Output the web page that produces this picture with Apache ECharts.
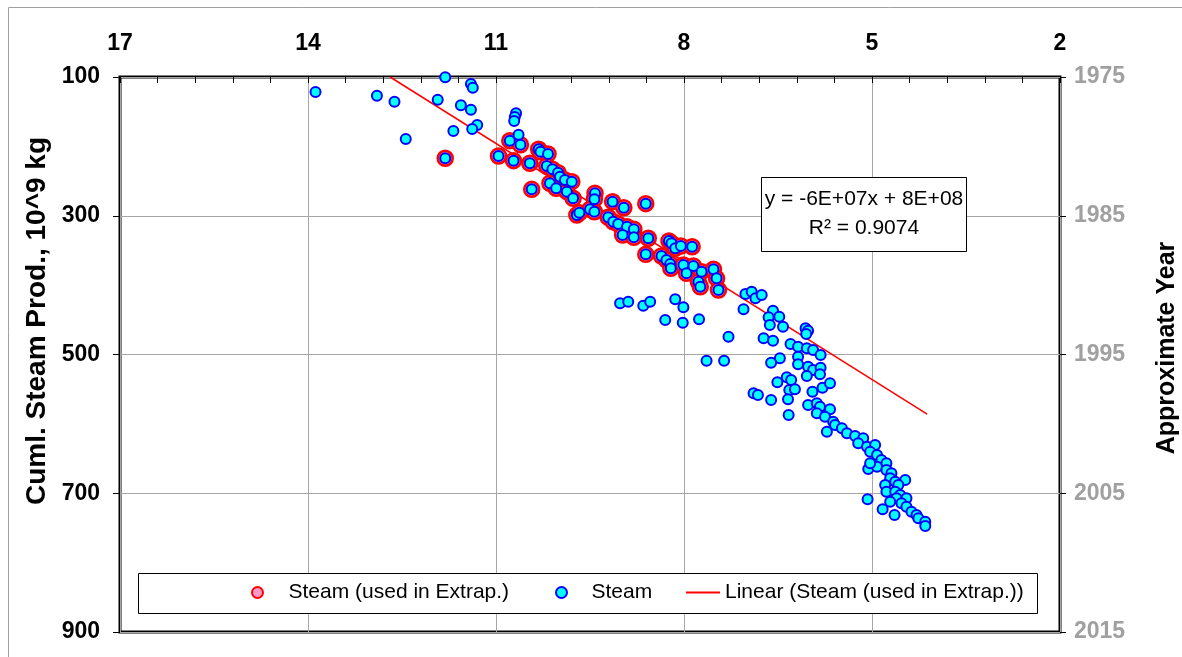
<!DOCTYPE html>
<html><head><meta charset="utf-8">
<script src="https://cdn.jsdelivr.net/npm/echarts@6/dist/echarts.min.js"></script>
<style>html,body{margin:0;padding:0;background:#fff}#c{width:1182px;height:657px}</style>
</head><body><div id="c"></div>
<script>
// ---- data ----
const usedX = [11.81,10.78,10.61,10.96,10.72,10.46,10.32,10.29,10.17,10.19,10.10,10.01,9.98,9.90,9.79,10.14,10.04,10.43,9.87,9.77,9.71,9.67,9.42,9.43,9.50,9.43,9.14,8.96,8.61,9.21,9.13,9.05,8.91,8.80,8.98,8.80,8.57,8.61,8.24,8.20,8.14,8.05,7.87,8.36,8.28,8.22,8.21,8.01,7.96,7.85,7.72,7.53,7.48,7.77,7.74,7.45];
const usedY = [217.2,191.8,197.6,213.9,220.6,224.4,204.2,207.7,211.0,228.3,233.0,237.9,243.7,248.5,250.9,253.2,260.4,261.9,265.3,274.8,298.9,295.6,267.6,276.3,290.7,294.2,279.7,288.4,282.6,302.2,308.6,311.9,315.8,319.5,327.7,331.1,332.5,355.6,336.4,339.7,346.9,343.6,344.6,358.0,363.8,369.5,375.7,371.0,383.0,372.4,380.6,377.2,390.2,395.1,402.3,407.0];
const otherX = [13.88,11.81,11.40,11.37,12.90,12.62,11.93,11.56,11.40,11.30,11.38,11.68,12.44,10.68,10.70,10.71,10.64,
  9.02,8.89,8.65,8.54,8.14,8.01,8.30,8.02,7.76,7.29,7.64,7.36,
  7.02,6.92,6.86,6.76,7.05,6.58,6.48,6.65,6.63,6.42,6.73,6.58,6.06,6.02,6.05,6.30,6.18,6.04,5.94,5.82,6.47,6.61,6.18,6.18,6.02,5.94,5.82,6.04,5.83,6.51,6.36,6.29,6.32,6.23,6.34,5.95,5.79,5.67,6.89,6.82,6.61,6.33,6.02,5.88,5.83,5.67,5.88,5.75,5.62,5.59,5.72,5.48,5.40,5.27,5.14,5.22,5.08,4.95,5.03,4.92,4.85,4.77,5.06,4.92,4.77,4.69,4.71,4.63,4.47,4.58,4.79,4.77,4.63,4.55,4.45,4.61,4.71,4.53,4.45,4.37,4.29,4.26,4.15,4.15,5.07,4.83,4.64,5.03];
const otherY = [121.6,100.4,110.1,115.4,127.0,135.6,132.7,140.8,147.1,169.2,175.0,177.8,189.4,152.3,157.5,163.4,183.2,
  426.2,423.9,429.7,423.9,420.4,432.0,450.3,454.2,449.3,474.3,508.9,508.9,
  412.8,409.5,419.0,414.2,434.9,436.9,445.5,446.4,457.5,459.9,476.6,480.1,462.2,465.7,470.5,484.9,488.8,491.1,493.5,500.7,505.5,511.8,503.2,514.1,517.6,522.3,519.0,531.0,528.5,540.1,532.9,536.8,551.2,550.2,564.6,553.6,547.9,541.5,555.9,558.4,565.6,587.2,572.8,570.3,575.2,579.0,584.8,589.7,596.9,601.6,611.3,606.4,613.6,617.6,620.8,628.0,632.9,630.5,640.1,644.9,652.1,656.8,665.0,661.7,666.5,671.2,678.4,683.3,680.9,688.1,688.1,697.8,697.8,702.5,707.3,707.3,712.2,714.5,719.4,726.6,731.3,736.1,741.0,747.2,708.7,723.2,731.3,656.8];
const trendX = [12.69, 4.12];
const trendY = [100, 586];
const xRange = [2, 17], xStep = 3;            // top axis: 17 ... 2 (reversed)
const yRange = [100, 900], yStep = 200;       // left axis
const yearRange = [1975, 2015], yearStep = 10; // right axis
const seriesNames = ['Steam (used in Extrap.)', 'Steam', 'Linear (Steam (used in Extrap.))'];
const eqLines = ['y = -6E+07x + 8E+08', 'R\u00B2 = 0.9074'];
const yTitle = 'Cuml. Steam Prod., 10^9 kg';
const y2Title = 'Approximate Year';

// ---- build ----
const zip = (a, b) => a.map((v, i) => [v, b[i]]);
const usedData = zip(usedX, usedY);
const steamData = usedData.concat(zip(otherX, otherY));
const trendData = zip(trendX, trendY);
const FF = "'Liberation Sans', Arial, sans-serif";

const chart = echarts.init(document.getElementById('c'), null, {renderer: 'canvas'});
const legendText = {fontFamily: FF, fontSize: 21, color: '#000'};
chart.setOption({
  animation: false,
  backgroundColor: '#fff',
  grid: {left: 120, top: 77, width: 940, height: 555, show: true, borderColor: '#000', borderWidth: 3, backgroundColor: '#fff', containLabel: false},
  xAxis: {
    type: 'value', position: 'top', min: xRange[0], max: xRange[1], interval: xStep, inverse: true,
    axisLine: {show: false},
    axisTick: {show: true, inside: true, length: 6, lineStyle: {color: '#000', width: 1}},
    minorTick: {show: true, splitNumber: 5, length: 6, lineStyle: {color: '#000', width: 1}},
    axisLabel: {margin: 22, fontFamily: FF, fontSize: 23, fontWeight: 'bold', color: '#000'},
    splitLine: {show: true, lineStyle: {color: '#A6A6A6', width: 1}}
  },
  yAxis: [{
    type: 'value', position: 'left', min: yRange[0], max: yRange[1], interval: yStep, inverse: true,
    axisLine: {show: false},
    axisTick: {show: true, inside: false, length: 7, lineStyle: {color: '#000', width: 1}},
    axisLabel: {margin: 20, fontFamily: FF, fontSize: 23, fontWeight: 'bold', color: '#000'},
    splitLine: {show: true, lineStyle: {color: '#A6A6A6', width: 1}}
  }, {
    type: 'value', position: 'right', min: yearRange[0], max: yearRange[1], interval: yearStep, inverse: true,
    axisLine: {show: false},
    axisTick: {show: true, inside: false, length: 6, lineStyle: {color: '#000', width: 1}},
    axisLabel: {margin: 14, fontFamily: FF, fontSize: 23, fontWeight: 'bold', color: '#A0A0A0', formatter: v => String(v)},
    splitLine: {show: false}
  }],
  legend: [
    {data: [seriesNames[0]], left: 251, top: 582, padding: 0, itemWidth: 52, itemHeight: 11, selectedMode: false, textStyle: legendText, z: 6},
    {data: [seriesNames[1]], left: 555, top: 582, padding: 0, itemWidth: 50, itemHeight: 11, selectedMode: false, textStyle: legendText, z: 6},
    {data: [seriesNames[2]], left: 685, top: 582, padding: 0, itemWidth: 34, itemHeight: 11, selectedMode: false, textStyle: legendText, z: 6,
     itemStyle: {color: 'rgba(0,0,0,0)', borderWidth: 0}}
  ],
  series: [
    {name: seriesNames[0], type: 'scatter', data: usedData, symbol: 'circle', symbolSize: 15, z: 2,
     itemStyle: {color: '#FF99CC', borderColor: '#FF0000', borderWidth: 2.5, opacity: 1}, silent: true},
    {name: seriesNames[2], type: 'line', data: trendData, symbol: 'none', showSymbol: false, z: 3,
     lineStyle: {color: '#FF0000', width: 1.5}, itemStyle: {color: 'rgba(0,0,0,0)', borderWidth: 0}, silent: true},
    {name: seriesNames[1], type: 'scatter', data: steamData, symbol: 'circle', symbolSize: 10, z: 4,
     itemStyle: {color: '#00FFFF', borderColor: '#0000FF', borderWidth: 2, opacity: 1}, silent: true}
  ],
  graphic: [
    {type: 'rect', z: 0, silent: true, shape: {x: 8.5, y: 7.5, width: 1200, height: 700}, style: {fill: 'none', stroke: '#A0A0A0', lineWidth: 1}},
    {type: 'rect', z: 3, silent: true, shape: {x: 138.5, y: 573.5, width: 899, height: 40}, style: {fill: '#fff', stroke: '#000', lineWidth: 1}},
    {type: 'rect', z: 3, silent: true, shape: {x: 761.5, y: 177.5, width: 205, height: 74}, style: {fill: '#fff', stroke: '#000', lineWidth: 1}},
    {type: 'text', z: 5, silent: true, x: 864, y: 199, style: {text: eqLines[0], font: '21px ' + FF, fill: '#000', align: 'center', verticalAlign: 'middle'}},
    {type: 'text', z: 5, silent: true, x: 864, y: 228, style: {text: eqLines[1], font: '21px ' + FF, fill: '#000', align: 'center', verticalAlign: 'middle'}},
    {type: 'text', z: 5, silent: true, x: 37, y: 321, rotation: Math.PI / 2, style: {text: yTitle, font: 'bold 28px ' + FF, fill: '#000', align: 'center', verticalAlign: 'middle'}},
    {type: 'text', z: 5, silent: true, x: 1167, y: 348, rotation: Math.PI / 2, style: {text: y2Title, font: 'bold 25px ' + FF, fill: '#000', align: 'center', verticalAlign: 'middle'}}
  ]
});
</script></body></html>
